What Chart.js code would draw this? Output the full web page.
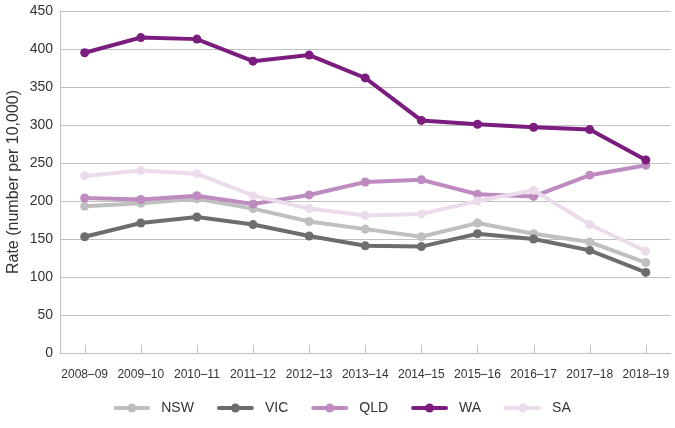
<!DOCTYPE html>
<html>
<head>
<meta charset="utf-8">
<script src="https://cdn.jsdelivr.net/npm/chart.js@4.4.1/dist/chart.umd.min.js"></script>
<style>
  html, body { margin: 0; padding: 0; background: #ffffff; }
  #wrap { width: 675px; height: 428px; position: relative; }
</style>
</head>
<body>
<div id="wrap"><canvas id="c" width="675" height="428"></canvas></div>
<script>
const categories = ["2008–09","2009–10","2010–11","2011–12","2012–13","2013–14","2014–15","2015–16","2016–17","2017–18","2018–19"];
const nsw = [193, 197, 203, 190, 173, 163, 153, 171, 157, 146, 119];
const vic = [153, 171, 179, 169, 154, 141, 140, 157, 150, 135, 106];
const qld = [204, 202, 207, 196, 208, 225, 228, 209, 206, 234, 247];
const wa  = [395, 415, 413, 384, 392, 362, 306, 301, 297, 294, 254];
const sa  = [233, 240, 236, 207, 190, 181, 183, 200, 214, 169, 134];
const yTicks = [0, 50, 100, 150, 200, 250, 300, 350, 400, 450];
const seriesNames = ["NSW", "VIC", "QLD", "WA", "SA"];
const seriesColors = ["#bfbfbf", "#6d6d6d", "#bd8bbf", "#7b1d7e", "#ebdbeb"];
const seriesData = [nsw, vic, qld, wa, sa];

const FONT = "'Liberation Sans', Arial, Helvetica, sans-serif";
const TEXT = "#333333";
const GRID = "#c0c0c0";

function legendImage(color) {
  const cv = document.createElement('canvas');
  cv.width = 50; cv.height = 12;
  const g = cv.getContext('2d');
  g.strokeStyle = color; g.lineWidth = 4; g.lineCap = 'round';
  g.beginPath(); g.moveTo(11, 6); g.lineTo(44, 6); g.stroke();
  g.fillStyle = color;
  g.beginPath(); g.arc(27.5, 6, 4.5, 0, Math.PI * 2); g.fill();
  return cv;
}

const datasets = seriesNames.map((name, i) => ({
  label: name,
  data: seriesData[i].map((v, j) => ({ x: j, y: v })),
  borderColor: seriesColors[i],
  backgroundColor: seriesColors[i],
  pointBackgroundColor: seriesColors[i],
  pointBorderColor: seriesColors[i],
  borderWidth: 4,
  pointRadius: 4.5,
  pointBorderWidth: 0,
  pointHoverRadius: 4.5,
  tension: 0,
  fill: false,
  order: seriesNames.length - i
}));

const innerTicks = {
  id: 'innerTicks',
  beforeDatasetsDraw(chart) {
    const xs = chart.scales.x;
    const area = chart.chartArea;
    const ctx = chart.ctx;
    ctx.save();
    ctx.strokeStyle = GRID;
    ctx.lineWidth = 1;
    categories.forEach((c, i) => {
      const px = Math.round(xs.getPixelForValue(i)) + 0.5;
      ctx.beginPath();
      ctx.moveTo(px, area.bottom - 8);
      ctx.lineTo(px, area.bottom);
      ctx.stroke();
    });
    ctx.restore();
  }
};

new Chart(document.getElementById('c'), {
  type: 'line',
  data: { datasets },
  plugins: [innerTicks],
  options: {
    responsive: false,
    animation: false,
    events: [],
    layout: { padding: { top: 11, right: 4, bottom: 3, left: 4 } },
    plugins: {
      tooltip: { enabled: false },
      legend: {
        position: 'bottom',
        labels: {
          font: { family: FONT, size: 14, lineHeight: 1 },
          color: TEXT,
          usePointStyle: true,
          pointStyleWidth: 50,
          boxHeight: 12,
          padding: 14,
          generateLabels(chart) {
            return chart.data.datasets.map((ds, i) => ({
              text: ds.label,
              pointStyle: legendImage(seriesColors[i]),
              fillStyle: seriesColors[i],
              strokeStyle: seriesColors[i],
              lineWidth: 0,
              fontColor: TEXT,
              hidden: false,
              datasetIndex: i
            }));
          }
        }
      }
    },
    scales: {
      x: {
        type: 'linear',
        min: -0.44,
        max: 10.44,
        afterBuildTicks(scale) {
          scale.ticks = categories.map((c, i) => ({ value: i }));
        },
        afterFit(scale) {
          scale.height = 34;
          scale.paddingLeft = 0; scale.paddingRight = 0;
        },
        ticks: {
          callback: (v) => categories[v],
          font: { family: FONT, size: 12 },
          color: TEXT,
          padding: 14,
          maxRotation: 0,
          autoSkip: false
        },
        grid: { display: false, drawTicks: false },
        border: { display: true, color: GRID, width: 1 }
      },
      y: {
        min: 0,
        max: 450,
        afterBuildTicks(scale) {
          scale.ticks = yTicks.map(v => ({ value: v }));
        },
        afterFit(scale) {
          scale.width = 56;
          scale.paddingTop = 0; scale.paddingBottom = 0;
        },
        ticks: {
          font: { family: FONT, size: 14 },
          color: TEXT,
          padding: 7
        },
        title: {
          display: true,
          text: 'Rate (number per 10,000)',
          font: { family: FONT, size: 16 },
          color: TEXT,
          padding: 0
        },
        grid: { color: GRID, drawTicks: false, lineWidth: 1 },
        border: { display: true, color: GRID, width: 1 }
      }
    }
  }
});
</script>
</body>
</html>
